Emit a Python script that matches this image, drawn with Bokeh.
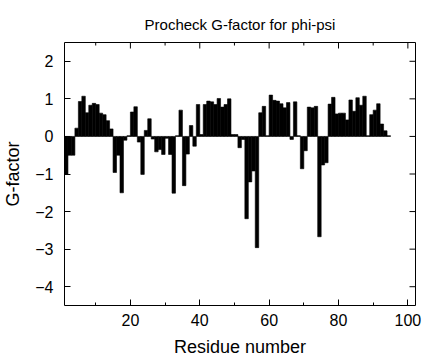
import math
from bokeh.plotting import figure
from bokeh.models import Range1d, FixedTicker, ColumnDataSource
from bokeh.embed import file_html
from bokeh.resources import INLINE

title = "Procheck G-factor for phi-psi"
x_label = "Residue number"
y_label = "G-factor"

residue = list(range(1, 95))
gfactor = [
    -1.00, -0.50, -0.50, 0.22, 0.93, 1.07, 0.63, 0.83, 0.88, 0.85,
    0.62, 0.58, 0.42, 0.20, -0.96, -0.50, -1.50, -0.10, 0.02, 0.65,
    0.79, -0.15, -1.01, 0.16, 0.47, -0.07, -0.41, -0.35, -0.48, -0.05,
    -0.48, -1.51, 0.02, 0.70, -1.31, -0.47, 0.29, -0.26, 0.85, 0.05,
    0.85, 0.94, 0.92, 0.85, 1.01, 0.78, 0.85, 1.00, 0.05, 0.05,
    -0.30, -0.08, -2.19, -1.21, -0.92, -2.96, 0.63, 0.80, 0.02, 1.10,
    0.96, 0.94, 0.87, 0.76, 0.90, -0.08, 0.92, 0.02, -0.86, -0.38,
    0.78, 0.76, 0.80, -2.67, -0.76, -0.70, 0.86, 1.04, 0.60, 0.62,
    0.62, 0.44, 0.97, 0.67, 1.03, 0.83, 1.07, 0.02, 0.58, 0.70,
    0.87, 0.33, 0.15, 0.02,
]
x_ticks = [20, 40, 60, 80, 100]
x_minor = [10, 30, 50, 70, 90]
y_ticks = [-4, -3, -2, -1, 0, 1, 2]

FONT = "Liberation Sans"

source = ColumnDataSource(dict(
    left=residue,
    right=[r + 1 for r in residue],
    top=gfactor,
    bottom=[0] * len(residue),
))

xr = Range1d(1.0, 102.2)
yr = Range1d(-4.5, 2.5)

p = figure(width=429, height=360, x_range=xr, y_range=yr,
           output_backend="svg", toolbar_location=None,
           min_border_left=62, min_border_right=14,
           min_border_top=42, min_border_bottom=55,
           title=title)

p.quad(left="left", right="right", top="top", bottom="bottom", source=source,
       fill_color="black", line_color="black", line_width=0.6)

# mirrored ticks on the top and right edges of the frame
p.ray(x=x_ticks, y=[yr.end] * len(x_ticks), length=6, length_units="screen",
      angle=-math.pi / 2, line_color="black", line_width=1)
p.ray(x=x_minor, y=[yr.end] * len(x_minor), length=3, length_units="screen",
      angle=-math.pi / 2, line_color="black", line_width=1)
p.ray(x=[xr.end] * len(y_ticks), y=y_ticks, length=6, length_units="screen",
      angle=math.pi, line_color="black", line_width=1)

p.grid.visible = False
p.outline_line_color = "black"
p.outline_line_width = 1
p.background_fill_color = "white"
p.border_fill_color = "white"

p.title.text_font = FONT
p.title.text_font_size = "15px"
p.title.text_font_style = "normal"
p.title.text_color = "black"
p.title.align = "center"
p.title.offset = 7.5
p.title.standoff = 19

p.xaxis.ticker = FixedTicker(ticks=x_ticks, minor_ticks=x_minor)
p.yaxis.ticker = FixedTicker(ticks=y_ticks, minor_ticks=[])
for ax in (p.xaxis[0], p.yaxis[0]):
    ax.axis_line_color = None
    ax.major_tick_in = 6
    ax.major_tick_out = 0
    ax.minor_tick_in = 3
    ax.minor_tick_out = 0
    ax.major_tick_line_color = "black"
    ax.minor_tick_line_color = "black"
    ax.major_label_text_font = FONT
    ax.major_label_text_font_size = "16px"
    ax.major_label_text_color = "black"
    ax.axis_label_text_font = FONT
    ax.axis_label_text_font_size = "18px"
    ax.axis_label_text_font_style = "normal"
    ax.axis_label_text_color = "black"

p.xaxis.axis_label = x_label
p.yaxis.axis_label = y_label
p.xaxis.major_label_standoff = 8
p.xaxis.axis_label_standoff = 8
p.yaxis.major_label_standoff = 11
p.yaxis.axis_label_standoff = 9

open("out.html", "w").write(file_html(p, INLINE))
